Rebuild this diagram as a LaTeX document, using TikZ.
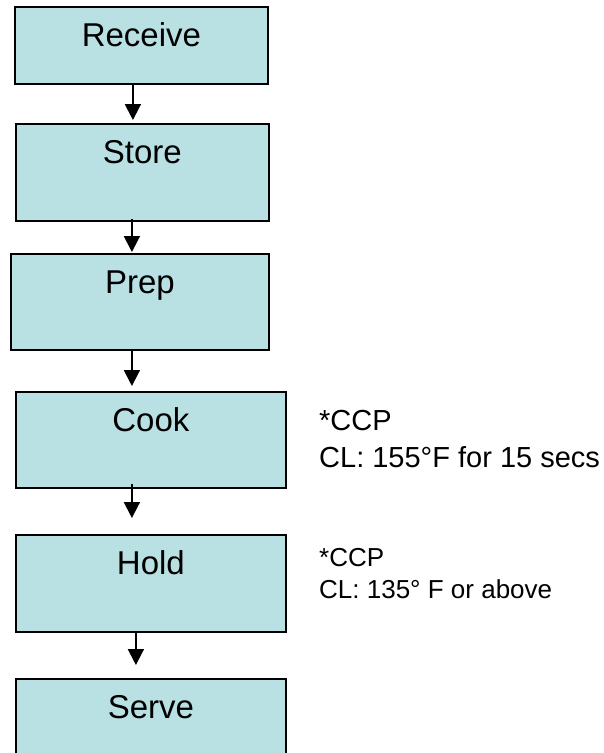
\documentclass[tikz,border=0pt]{standalone}
\usepackage{fontspec}
\setmainfont{Liberation Sans}
\usepackage{xcolor}
\usepackage{tikz}
\usetikzlibrary{arrows.meta}
\definecolor{boxfill}{RGB}{185,224,227}
\tikzset{stepbox/.style={draw=black, fill=boxfill, line width=1.8pt, inner sep=0pt,
    text height=40pt, font=\fontsize{33}{39}\selectfont},
  flow/.style={black, line width=2pt, ->, >={Triangle[width=16pt,length=16pt]}},
  note/.style={inner sep=0pt, align=left}}

\begin{document}
\begin{tikzpicture} [x=1pt,y=-1pt]
\path[use as bounding box, clip] (0,0) rectangle (603,753);
\foreach \nm/\txt/\x/\y/\w/\d in {receive/Receive/14/6/253/37, store/Store/15/123/253/57,
  prep/Prep/10/253/258/56, cook/Cook/15/391/270/56, hold/Hold/15/534/270/57,
  serve/Serve/15/678/270/57} {
 \node[stepbox, anchor=north west, minimum width=\w pt, text depth=\d pt] (\nm) at (\x,\y) {\txt};
}
\foreach \a/\b/\dx/\s/\e in {receive/store/-8.5pt/0pt/3pt, store/prep/-10.5pt/-3pt/1pt,
  prep/cook/-8pt/0pt/5pt, cook/hold/-19pt/-5pt/16pt, hold/serve/-15pt/-2pt/13pt} {
 \draw[flow, shorten <=\s, shorten >=\e] ([xshift=\dx]\a.south) -- ([xshift=\dx]\a.south |- \b.north);
}
\node[note, anchor=north west, font=\fontsize{29}{37}\selectfont] (cooknote) at (319,410) {*CCP\\CL: 155°F for 15 secs};
\node[note, anchor=north west, font=\fontsize{26}{32}\selectfont] (holdnote) at (319,548) {*CCP\\CL: 135° F or above};
\end{tikzpicture}
\end{document}
